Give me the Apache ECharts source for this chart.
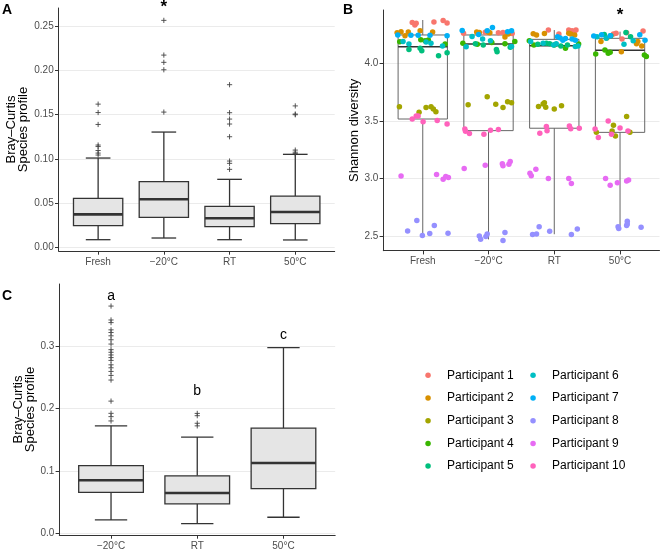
<!DOCTYPE html>
<html><head><meta charset="utf-8">
<script src="https://cdn.jsdelivr.net/npm/echarts@6/dist/echarts.min.js"></script>
<style>html,body{margin:0;padding:0;background:#fff}#c{width:660px;height:551px}</style>
</head><body><div id="c"></div>
<script>
// ---------- categories & ticks ----------
const conditionsAB = ['Fresh', '\u221220\u00B0C', 'RT', '50\u00B0C'];
const conditionsC = ['\u221220\u00B0C', 'RT', '50\u00B0C'];
const yTicksA = [0, 0.05, 0.10, 0.15, 0.20, 0.25];
const yTicksB = [2.5, 3.0, 3.5, 4.0];
const yTicksC = [0, 0.1, 0.2, 0.3];

// ---------- Panel A: Bray-Curtis (box stats: low whisker, q1, median, q3, high whisker) ----------
const boxA = [
  [0.0086, 0.0245, 0.0373, 0.0554, 0.1010],
  [0.0105, 0.0339, 0.0543, 0.0742, 0.1304],
  [0.0086, 0.0233, 0.0328, 0.0464, 0.0769],
  [0.0083, 0.0267, 0.0399, 0.0580, 0.1052]
];
const outliersA = [
  [0.162, 0.1525, 0.139, 0.1157, 0.114, 0.1095, 0.1066, 0.1044],
  [0.2568, 0.2175, 0.2093, 0.2009, 0.153],
  [0.184, 0.1523, 0.1451, 0.1395, 0.1251, 0.0976, 0.095, 0.0882],
  [0.160, 0.1508, 0.150, 0.110, 0.1076, 0.106]
];
const starA = [[2, 0.272]];

// ---------- Panel B: Shannon diversity ----------
const boxB = [
  [2.500, 3.516, 4.144, 4.246, 4.376],
  [2.470, 3.415, 4.168, 4.246, 4.300],
  [2.515, 3.436, 4.153, 4.208, 4.289],
  [2.580, 3.400, 4.113, 4.217, 4.275]
];
const starB = [[4, 4.42]];
// each point: [condition index, jitter, shannon]
const participant1 = [[1,-0.16,4.354],[1,-0.12,4.332],[1,-0.10,4.347],[1,0.17,4.358],[1,0.31,4.372],[1,0.37,4.350],
  [2,-0.38,4.262],[2,-0.05,4.27],[2,0.15,4.265],[2,0.22,4.268],[2,0.29,4.262],[2,0.36,4.258],
  [3,-0.09,4.29],[3,0.07,4.255],[3,0.22,4.29],[3,0.27,4.283],[3,0.30,4.266],[3,0.33,4.29],
  [4,-0.06,4.26],[4,0.03,4.21],[4,0.35,4.28],[4,-0.10,4.255],[4,0.10,4.265]];
const participant2 = [[1,-0.39,4.266],[1,-0.33,4.274],[1,-0.22,4.272],[1,-0.04,4.283],[1,0.15,4.272],[1,-0.27,4.24],
  [2,-0.18,4.272],[2,-0.14,4.268],[2,0.0,4.270],[2,0.25,4.228],[2,0.02,4.265],[2,0.30,4.255],
  [3,-0.32,4.256],[3,-0.27,4.246],[3,-0.15,4.258],[3,0.22,4.262],[3,0.25,4.255],[3,0.31,4.245],
  [4,-0.29,4.19],[4,0.02,4.10],[4,0.25,4.17],[4,0.33,4.15],[4,0.27,4.19],[4,-0.20,4.22]];
const participant3 = [[1,-0.355,3.623],[1,-0.056,3.575],[1,0.05,3.615],[1,0.126,3.623],[1,0.161,3.603],[1,0.20,3.58],
  [2,-0.31,3.64],[2,0.11,3.645],[2,0.22,3.617],[2,0.29,3.667],[2,0.35,3.658],[2,-0.02,3.71],
  [3,-0.24,3.625],[3,-0.17,3.647],[3,-0.13,3.618],[3,0.0,3.603],[3,0.11,3.632],[3,-0.15,3.658],
  [4,0.10,3.537],[4,-0.10,3.462],[4,-0.12,3.412],[4,-0.07,3.369],[4,-0.36,3.40],[4,0.15,3.40]];
const participant4 = [[1,-0.35,4.188],[1,-0.03,4.205],[1,0.035,4.196],[1,0.085,4.202],[1,0.34,4.168],
  [2,-0.39,4.175],[2,-0.17,4.165],[2,0.05,4.18],[2,0.40,4.19],[2,0.25,4.17],
  [3,-0.38,4.196],[3,-0.31,4.16],[3,0.17,4.13],[3,0.37,4.168],[3,0.0,4.16],
  [4,-0.37,4.081],[4,-0.23,4.115],[4,-0.18,4.087],[4,-0.15,4.095],[4,0.37,4.072],[4,0.40,4.06]];
const participant5 = [[1,-0.21,4.12],[1,-0.04,4.13],[1,-0.015,4.11],[1,0.24,4.066],[1,0.37,4.092],
  [2,0.12,4.12],[2,0.13,4.10],[2,-0.08,4.16],[2,0.33,4.14],[2,-0.20,4.17],
  [3,-0.12,4.174],[3,-0.07,4.17],[3,0.20,4.16],[3,-0.25,4.165],[3,0.10,4.15],
  [4,-0.14,4.24],[4,0.09,4.268],[4,-0.24,4.25],[4,0.16,4.23]];
const participant6 = [[1,-0.21,4.168],[1,0.125,4.174],[1,-0.30,4.19],[1,0.05,4.185],[1,0.30,4.15],
  [2,-0.34,4.144],[2,-0.09,4.21],[2,0.03,4.196],[2,0.35,4.145],[2,-0.25,4.232],
  [3,-0.36,4.19],[3,-0.17,4.174],[3,-0.01,4.16],[3,0.03,4.17],[3,0.32,4.145],[3,0.36,4.15],
  [4,-0.21,4.218],[4,0.06,4.165],[4,0.20,4.196],[4,-0.35,4.23]];
const participant7 = [[1,-0.38,4.246],[1,-0.18,4.243],[1,-0.07,4.243],[1,0.11,4.243],[1,0.37,4.24],
  [2,-0.40,4.285],[2,0.06,4.31],[2,-0.02,4.283],[2,0.29,4.275],[2,0.35,4.283],[2,-0.15,4.25],
  [3,0.05,4.23],[3,0.09,4.22],[3,0.17,4.215],[3,0.27,4.21],[3,0.13,4.20],[3,0.32,4.20],
  [4,-0.40,4.237],[4,-0.28,4.248],[4,0.30,4.248],[4,0.38,4.20],[4,-0.15,4.24]];
const participant8 = [[1,-0.23,2.544],[1,-0.09,2.634],[1,-0.006,2.503],[1,0.106,2.521],[1,0.176,2.59],[1,0.384,2.524],
  [2,-0.14,2.50],[2,-0.12,2.472],[2,-0.04,2.495],[2,-0.02,2.516],[2,0.22,2.46],[2,0.25,2.53],
  [3,-0.33,2.513],[3,-0.27,2.518],[3,-0.23,2.58],[3,-0.07,2.542],[3,0.26,2.512],[3,0.35,2.561],
  [4,-0.03,2.579],[4,-0.02,2.565],[4,0.10,2.591],[4,0.11,2.628],[4,0.11,2.605],[4,0.32,2.576]];
const participant9 = [[1,-0.33,3.022],[1,0.21,3.033],[1,0.31,2.993],[1,0.35,3.016],[1,0.39,3.007],
  [2,-0.37,3.085],[2,-0.05,3.115],[2,0.21,3.128],[2,0.22,3.11],[2,0.31,3.123],[2,0.33,3.146],
  [3,-0.37,3.045],[3,-0.35,3.024],[3,-0.28,3.08],[3,-0.09,3.0],[3,0.22,3.0],[3,0.26,2.955],
  [4,-0.22,3.0],[4,-0.15,2.94],[4,-0.04,2.963],[4,0.10,2.978],[4,0.13,2.987]];
const participant10 = [[1,-0.16,3.516],[1,-0.10,3.543],[1,-0.07,3.543],[1,0.005,3.493],[1,0.22,3.502],[1,0.37,3.473],
  [2,-0.36,3.43],[2,-0.29,3.39],[2,-0.07,3.384],[2,0.03,3.418],[2,0.15,3.424],[2,-0.35,3.41],
  [3,-0.22,3.392],[3,-0.12,3.45],[3,-0.11,3.415],[3,0.23,3.456],[3,0.25,3.432],[3,0.38,3.436],
  [4,-0.38,3.43],[4,-0.33,3.355],[4,-0.18,3.499],[4,0.0,3.438],[4,-0.13,3.384],[4,0.12,3.412]];
const participantNames = ['Participant 1','Participant 2','Participant 3','Participant 4','Participant 5',
  'Participant 6','Participant 7','Participant 8','Participant 9','Participant 10'];
const participantColors = ['#F8766D','#D89000','#A3A500','#39B600','#00BF7D','#00BFC4','#00B0F6','#9590FF','#E76BF3','#FF62BC'];

// ---------- Panel C ----------
const boxC = [
  [0.0217, 0.0660, 0.0854, 0.1087, 0.1725],
  [0.0158, 0.0475, 0.0649, 0.0924, 0.1546],
  [0.0260, 0.0718, 0.1130, 0.1688, 0.2980]
];
const outliersC = [
  [0.3646, 0.3423, 0.3381, 0.3265, 0.3222, 0.3169, 0.3106, 0.3037, 0.2947, 0.2905, 0.2862, 0.282, 0.2775,
   0.2704, 0.2656, 0.2598, 0.2534, 0.246, 0.2122, 0.1926, 0.1873, 0.1804],
  [0.1925, 0.1888, 0.1767, 0.1725],
  []
];
const lettersC = ['a', 'b', 'c'];
const letterPosC = [[1, 0.381], [2, 0.228], [3, 0.3175]];

// ---------- helpers ----------
function boxData(stats) { return stats.map((s, i) => [i + 1].concat(s)); }
function outlierData(list) {
  const out = [];
  list.forEach((vals, i) => vals.forEach(v => out.push([i + 1, v])));
  return out;
}
function makeBoxRender(o) {
  return function (params, api) {
    const x = api.value(0);
    const lo = api.coord([x, api.value(1)]);
    const q1 = api.coord([x, api.value(2)]);
    const md = api.coord([x, api.value(3)]);
    const q3 = api.coord([x, api.value(4)]);
    const hi = api.coord([x, api.value(5)]);
    const hw = api.size([o.width, 0])[0] / 2;
    const cw = api.size([o.cap, 0])[0] / 2;
    const cx = md[0];
    const ls = { stroke: o.line, lineWidth: o.lw };
    const ch = [
      { type: 'line', shape: { x1: cx, y1: hi[1], x2: cx, y2: q3[1] }, style: Object.assign({}, ls, { stroke: o.whisker || o.line }) },
      { type: 'line', shape: { x1: cx, y1: q1[1], x2: cx, y2: lo[1] }, style: Object.assign({}, ls, { stroke: o.whisker || o.line }) },
      { type: 'rect', shape: { x: cx - hw, y: q3[1], width: 2 * hw, height: q1[1] - q3[1] },
        style: { fill: o.fill, stroke: o.line, lineWidth: o.lw } },
      { type: 'line', shape: { x1: cx - hw, y1: md[1], x2: cx + hw, y2: md[1] }, style: { stroke: o.median, lineWidth: o.mlw } }
    ];
    if (o.cap > 0) {
      ch.push({ type: 'line', shape: { x1: cx - cw, y1: hi[1], x2: cx + cw, y2: hi[1] }, style: ls });
      ch.push({ type: 'line', shape: { x1: cx - cw, y1: lo[1], x2: cx + cw, y2: lo[1] }, style: ls });
    }
    return { type: 'group', children: ch };
  };
}
function plusRender(params, api) {
  const p = api.coord([api.value(0), api.value(1)]);
  const s = 2.6;
  return { type: 'group', children: [
    { type: 'line', shape: { x1: p[0] - s, y1: p[1], x2: p[0] + s, y2: p[1] }, style: { stroke: '#444', lineWidth: 0.9 } },
    { type: 'line', shape: { x1: p[0], y1: p[1] - s, x2: p[0], y2: p[1] + s }, style: { stroke: '#444', lineWidth: 0.9 } }
  ] };
}
function textRender(labels, size, weight) {
  return function (params, api) {
    const p = api.coord([api.value(0), api.value(1)]);
    return { type: 'text', x: p[0], y: p[1],
      style: { text: labels[params.dataIndex], fill: '#000', fontSize: size, fontWeight: weight,
        fontFamily: 'Liberation Sans, Arial, sans-serif', align: 'center', verticalAlign: 'middle' } };
  };
}

const FONT = 'Liberation Sans, Arial, sans-serif';
function xAxisDef(grid, cats) {
  const vals = cats.map((c, i) => i + 1);
  return {
    type: 'value', gridIndex: grid, min: 0.4, max: cats.length + 0.6,
    axisLine: { onZero: false, lineStyle: { color: '#333', width: 1 } },
    axisTick: { customValues: vals, length: 3.7, lineStyle: { color: '#333', width: 1 } },
    axisLabel: { customValues: vals, formatter: v => cats[Math.round(v) - 1], color: '#4d4d4d', fontSize: 10,
      fontFamily: FONT, margin: 6 },
    splitLine: { show: false }
  };
}
function yAxisDef(grid, min, max, ticks, dec, name, gap) {
  return {
    type: 'value', gridIndex: grid, min: min, max: max,
    name: name, nameLocation: 'middle', nameGap: gap, nameRotate: 90,
    nameTextStyle: { color: '#000', fontSize: 13, fontFamily: FONT, lineHeight: 12 },
    axisLine: { show: true, onZero: false, lineStyle: { color: '#333', width: 1 } },
    axisTick: { show: true, customValues: ticks, length: 3.7, lineStyle: { color: '#333', width: 1 } },
    axisLabel: { customValues: ticks, formatter: v => v.toFixed(dec), color: '#4d4d4d', fontSize: 10,
      fontFamily: FONT, margin: 5 },
    splitLine: { show: true, lineStyle: { color: '#ebebeb', width: 1 } }
  };
}

const allParticipants = [participant1, participant2, participant3, participant4, participant5,
  participant6, participant7, participant8, participant9, participant10];

const scatterSeries = allParticipants.map((pts, i) => ({
  type: 'scatter', name: participantNames[i], xAxisIndex: 1, yAxisIndex: 1,
  symbol: 'circle', symbolSize: 5.5, z: 5,
  itemStyle: { color: participantColors[i], opacity: 1 },
  data: pts.map(p => [p[0] + p[1], p[2]])
}));

const boxStyleAC = { width: 0.75, cap: 0.375, line: '#333', lw: 1.3, fill: '#e5e5e5', median: '#333', mlw: 2.6 };
const boxStyleB = { width: 0.75, cap: 0, line: '#666', whisker: '#666', lw: 1, fill: 'rgba(0,0,0,0)', median: '#333', mlw: 1.6 };

const legendBase = { orient: 'vertical', top: 367.3, padding: 0, itemWidth: 28, itemHeight: 5.5, itemGap: 6.7,
  icon: 'circle', selectedMode: false, textStyle: { fontSize: 12, fontFamily: FONT, color: '#000', lineHeight: 16 } };

const option = {
  animation: false,
  backgroundColor: '#fff',
  grid: [
    { left: 58.7, top: 8, width: 276, height: 243 },
    { left: 383.3, top: 10, width: 276.2, height: 240.7 },
    { left: 59.3, top: 284, width: 275.9, height: 253.8 }
  ],
  xAxis: [xAxisDef(0, conditionsAB), xAxisDef(1, conditionsAB), xAxisDef(2, conditionsC)],
  yAxis: [
    yAxisDef(0, -0.0042, 0.2708, yTicksA, 2, 'Bray\u2013Curtis\nSpecies profile', 25),
    yAxisDef(1, 2.372, 4.463, yTicksB, 1, 'Shannon diversity', 20),
    yAxisDef(2, -0.0025, 0.40, yTicksC, 1, 'Bray\u2013Curtis\nSpecies profile', 23)
  ],
  legend: [
    Object.assign({}, legendBase, { data: participantNames.slice(0, 5), left: 425.3 }),
    Object.assign({}, legendBase, { data: participantNames.slice(5), left: 530.3 })
  ],
  graphic: [
    { type: 'text', left: 2, top: 3, style: { text: 'A', fontSize: 14, fontWeight: 'bold', fontFamily: FONT, fill: '#000' } },
    { type: 'text', left: 343, top: 3, style: { text: 'B', fontSize: 14, fontWeight: 'bold', fontFamily: FONT, fill: '#000' } },
    { type: 'text', left: 2, top: 289, style: { text: 'C', fontSize: 14, fontWeight: 'bold', fontFamily: FONT, fill: '#000' } }
  ],
  series: [
    { type: 'custom', xAxisIndex: 0, yAxisIndex: 0, renderItem: makeBoxRender(boxStyleAC), data: boxData(boxA), z: 2,
      encode: { x: 0, y: [1, 2, 3, 4, 5] }, silent: true },
    { type: 'custom', xAxisIndex: 0, yAxisIndex: 0, renderItem: plusRender, data: outlierData(outliersA), z: 3, silent: true },
    { type: 'custom', xAxisIndex: 0, yAxisIndex: 0, renderItem: textRender(['*'], 17, 'bold'), data: starA, z: 4, clip: false, silent: true },
    { type: 'custom', xAxisIndex: 1, yAxisIndex: 1, renderItem: makeBoxRender(boxStyleB), data: boxData(boxB), z: 2,
      encode: { x: 0, y: [1, 2, 3, 4, 5] }, silent: true },
    { type: 'custom', xAxisIndex: 1, yAxisIndex: 1, renderItem: textRender(['*'], 17, 'bold'), data: starB, z: 4, clip: false, silent: true },
    { type: 'custom', xAxisIndex: 2, yAxisIndex: 2, renderItem: makeBoxRender(boxStyleAC), data: boxData(boxC), z: 2,
      encode: { x: 0, y: [1, 2, 3, 4, 5] }, silent: true },
    { type: 'custom', xAxisIndex: 2, yAxisIndex: 2, renderItem: plusRender, data: outlierData(outliersC), z: 3, silent: true },
    { type: 'custom', xAxisIndex: 2, yAxisIndex: 2, renderItem: textRender(lettersC, 14, 'normal'), data: letterPosC, z: 4, clip: false, silent: true }
  ].concat(scatterSeries)
};

const chart = echarts.init(document.getElementById('c'), null, { renderer: 'canvas' });
chart.setOption(option);
</script>
</body></html>
